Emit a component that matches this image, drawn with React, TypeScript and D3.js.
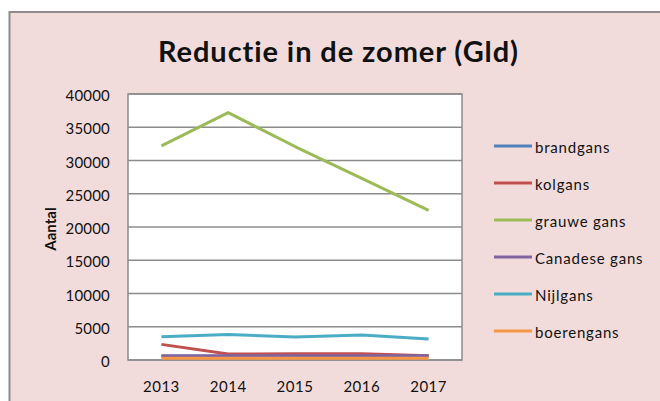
import * as React from 'react';
import * as d3 from 'd3';

const years = ['2013', '2014', '2015', '2016', '2017'];
const seriesNames = ['brandgans', 'kolgans', 'grauwe gans', 'Canadese gans', 'Nijlgans', 'boerengans'];
const brandgans = [550, 550, 550, 550, 550];
const kolgans = [2350, 900, 950, 950, 650];
const grauweGans = [32200, 37200, 32100, 27300, 22500];
const canadeseGans = [650, 650, 650, 650, 650];
const nijlgans = [3500, 3850, 3450, 3750, 3150];
const boerengans = [250, 250, 250, 250, 250];
const yTicks = [0, 5000, 10000, 15000, 20000, 25000, 30000, 35000, 40000];
const colors = ['#4F81BD', '#C0504D', '#9BBB59', '#8064A2', '#4BACC6', '#F79646'];

const font = 'Lato, "Open Sans", sans-serif';

const App = () => {
  const width = 660;
  const height = 401;
  const plot = { left: 128, top: 94, right: 462, bottom: 360 };

  const x = d3.scaleBand().domain(years).range([plot.left, plot.right]);
  const y = d3.scaleLinear().domain([0, 40000]).range([plot.bottom, plot.top]);
  const line = d3
    .line<number>()
    .x((d, i) => x(years[i])! + x.bandwidth() / 2)
    .y((d) => y(d));

  const values = [brandgans, kolgans, grauweGans, canadeseGans, nijlgans, boerengans];

  return (
    <svg
      width={width}
      height={height}
      style={{ position: 'absolute', left: 0, top: 0, display: 'block', fontVariantLigatures: 'none' }}
      fontFamily={font}>
      <rect x={0} y={0} width={width} height={height} fill='white' />
      <rect x={9.5} y={12} width={width} height={height} fill='#F2DCDB' stroke='#8c8c8c' strokeWidth={2} />
      <text
        x={338}
        y={62}
        textAnchor='middle'
        fontSize='29'
        fontWeight='bold'
        fill='#111'
        textLength={360}
        lengthAdjust='spacing'>
        Reductie in de zomer (Gld)
      </text>

      <rect
        x={plot.left}
        y={plot.top}
        width={plot.right - plot.left}
        height={plot.bottom - plot.top}
        fill='white'
        stroke='#8c8c8c'
        strokeWidth={1.5}
      />
      {yTicks.map((t) => (
        <g key={t}>
          <line x1={plot.left} x2={plot.right} y1={y(t)} y2={y(t)} stroke='#8c8c8c' strokeWidth={1.5} />
          <text
            x={110}
            y={y(t) + 1}
            textAnchor='end'
            dominantBaseline='central'
            fontSize='15'
            letterSpacing='0.2'
            fill='#111'>
            {t}
          </text>
        </g>
      ))}
      {years.map((yr) => (
        <text
          key={yr}
          x={x(yr)! + x.bandwidth() / 2}
          y={386}
          textAnchor='middle'
          dominantBaseline='central'
          fontSize='15'
          letterSpacing='0.5'
          fill='#111'>
          {yr}
        </text>
      ))}
      <text
        transform='translate(50 229) rotate(-90)'
        textAnchor='middle'
        dominantBaseline='central'
        fontSize='15'
        fontWeight='bold'
        fill='#111'>
        Aantal
      </text>

      {values.map((v, i) => (
        <path key={i} d={line(v)!} fill='none' stroke={colors[i]} strokeWidth={3} strokeLinejoin='round' />
      ))}

      {seriesNames.map((name, i) => {
        const ly = 146 + i * 37;
        return (
          <g key={name}>
            <line x1={494} x2={532} y1={ly} y2={ly} stroke={colors[i]} strokeWidth={3} />
            <text
              x={535}
              y={ly + 1}
              dominantBaseline='central'
              fontSize='15'
              letterSpacing='0.8'
              fill='#111'>
              {name}
            </text>
          </g>
        );
      })}
    </svg>
  );
};

export default App;
